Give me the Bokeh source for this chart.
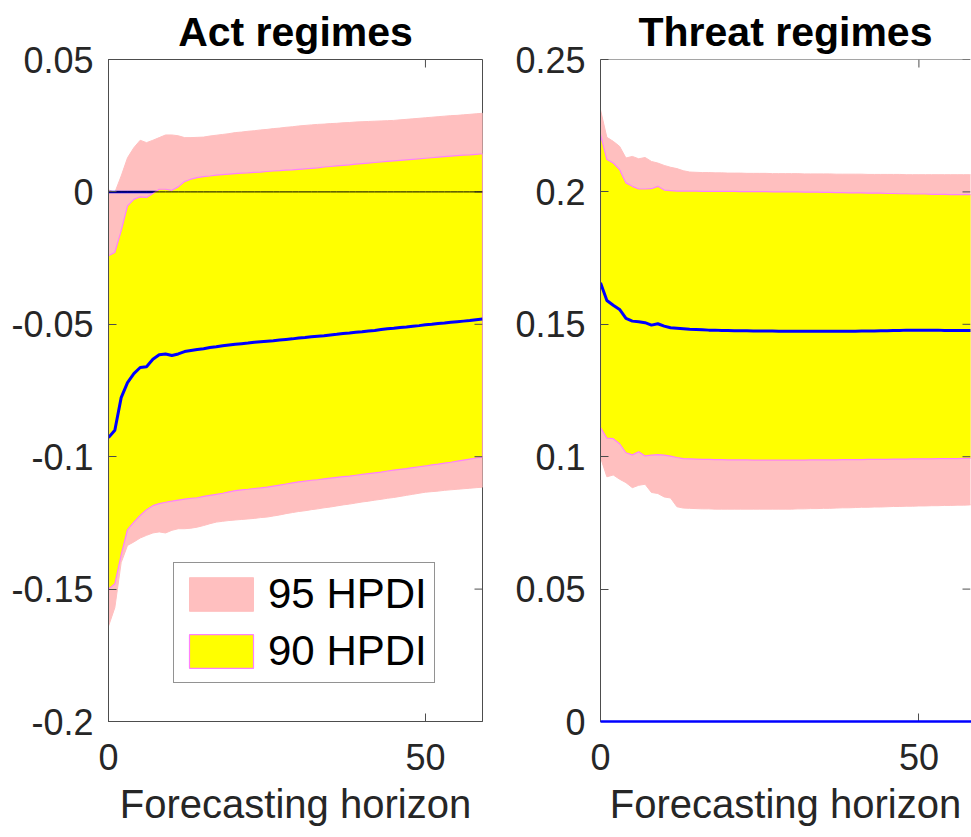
import math
from bokeh.plotting import figure
from bokeh.models import Range1d, FixedTicker, Legend, LegendItem, Span
from bokeh.layouts import row
from bokeh.embed import file_html
from bokeh.resources import INLINE

# ---------------- data ----------------
horizon = list(range(60))

# Act regimes
act_median = [-0.0928, -0.0900, -0.0777, -0.0720, -0.0686, -0.0663, -0.0660, -0.0632, -0.0615, -0.0612,
              -0.0618, -0.0612, -0.0603, -0.0599, -0.0595, -0.0592, -0.0588, -0.0585, -0.0581, -0.0578,
              -0.0575, -0.0573, -0.0571, -0.0568, -0.0566, -0.0564, -0.0562, -0.0559, -0.0557, -0.0555,
              -0.0552, -0.0550, -0.0547, -0.0545, -0.0543, -0.0540, -0.0538, -0.0535, -0.0533, -0.0530,
              -0.0528, -0.0525, -0.0523, -0.0520, -0.0517, -0.0515, -0.0512, -0.0510, -0.0507, -0.0505,
              -0.0502, -0.0500, -0.0497, -0.0495, -0.0492, -0.0490, -0.0488, -0.0486, -0.0483, -0.0480]
act_hi90 = [-0.0241, -0.0229, -0.0147, -0.0053, -0.0028, -0.0019, -0.0021, -0.0006, 0.0010, 0.0010,
            0.0006, 0.0019, 0.0039, 0.0048, 0.0054, 0.0058, 0.0060, 0.0063, 0.0065, 0.0067,
            0.0069, 0.0071, 0.0072, 0.0074, 0.0075, 0.0077, 0.0079, 0.0080, 0.0082, 0.0083,
            0.0085, 0.0087, 0.0089, 0.0091, 0.0094, 0.0096, 0.0098, 0.0100, 0.0102, 0.0105,
            0.0107, 0.0109, 0.0111, 0.0113, 0.0115, 0.0117, 0.0119, 0.0121, 0.0123, 0.0125,
            0.0127, 0.0129, 0.0131, 0.0133, 0.0135, 0.0137, 0.0139, 0.0140, 0.0142, 0.0144]
act_lo90 = [-0.1500, -0.1480, -0.1370, -0.1275, -0.1247, -0.1222, -0.1200, -0.1185, -0.1177, -0.1172,
            -0.1168, -0.1164, -0.1160, -0.1157, -0.1155, -0.1150, -0.1146, -0.1142, -0.1138, -0.1133,
            -0.1128, -0.1125, -0.1123, -0.1120, -0.1118, -0.1115, -0.1111, -0.1107, -0.1103, -0.1099,
            -0.1095, -0.1092, -0.1089, -0.1087, -0.1084, -0.1081, -0.1078, -0.1075, -0.1073, -0.1070,
            -0.1067, -0.1064, -0.1061, -0.1058, -0.1054, -0.1051, -0.1048, -0.1045, -0.1041, -0.1038,
            -0.1035, -0.1031, -0.1028, -0.1024, -0.1021, -0.1017, -0.1013, -0.1009, -0.1005, -0.1002]
act_hi95 = [0.0008, -0.0002, 0.0060, 0.0129, 0.0167, 0.0195, 0.0186, 0.0195, 0.0205, 0.0215,
            0.0215, 0.0212, 0.0205, 0.0205, 0.0206, 0.0207, 0.0211, 0.0214, 0.0217, 0.0220,
            0.0224, 0.0226, 0.0229, 0.0231, 0.0234, 0.0236, 0.0239, 0.0241, 0.0244, 0.0246,
            0.0249, 0.0251, 0.0253, 0.0255, 0.0256, 0.0258, 0.0259, 0.0261, 0.0262, 0.0264,
            0.0265, 0.0266, 0.0267, 0.0268, 0.0269, 0.0270, 0.0272, 0.0274, 0.0276, 0.0278,
            0.0280, 0.0282, 0.0284, 0.0286, 0.0288, 0.0289, 0.0291, 0.0293, 0.0295, 0.0297]
act_lo95 = [-0.1640, -0.1570, -0.1400, -0.1335, -0.1322, -0.1307, -0.1297, -0.1288, -0.1284, -0.1288,
            -0.1278, -0.1272, -0.1272, -0.1270, -0.1266, -0.1260, -0.1253, -0.1247, -0.1244, -0.1241,
            -0.1239, -0.1237, -0.1235, -0.1233, -0.1230, -0.1228, -0.1224, -0.1220, -0.1215, -0.1211,
            -0.1207, -0.1204, -0.1200, -0.1197, -0.1193, -0.1190, -0.1186, -0.1182, -0.1179, -0.1175,
            -0.1171, -0.1168, -0.1164, -0.1161, -0.1157, -0.1154, -0.1150, -0.1146, -0.1142, -0.1138,
            -0.1134, -0.1132, -0.1130, -0.1127, -0.1125, -0.1123, -0.1121, -0.1119, -0.1117, -0.1115]

# Threat regimes
thr_median = [0.1657, 0.1590, 0.1572, 0.1556, 0.1522, 0.1512, 0.1510, 0.1506, 0.1497, 0.1502,
              0.1493, 0.1487, 0.1485, 0.1483, 0.1481, 0.1480, 0.1479, 0.1478, 0.1478, 0.1477,
              0.1477, 0.1476, 0.1476, 0.1476, 0.1475, 0.1475, 0.1475, 0.1475, 0.1474, 0.1474,
              0.1474, 0.1474, 0.1474, 0.1474, 0.1474, 0.1474, 0.1474, 0.1474, 0.1474, 0.1474,
              0.1474, 0.1475, 0.1475, 0.1475, 0.1476, 0.1476, 0.1477, 0.1477, 0.1478, 0.1478,
              0.1478, 0.1478, 0.1478, 0.1478, 0.1477, 0.1477, 0.1477, 0.1477, 0.1477, 0.1477]
thr_hi90 = [0.2216, 0.2122, 0.2109, 0.2084, 0.2034, 0.2021, 0.2011, 0.2011, 0.2012, 0.2021,
            0.2007, 0.2005, 0.2003, 0.2003, 0.2003, 0.2003, 0.2002, 0.2002, 0.2002, 0.2002,
            0.2002, 0.2002, 0.2001, 0.2001, 0.2001, 0.2001, 0.2001, 0.2000, 0.2000, 0.2000,
            0.2000, 0.2000, 0.1999, 0.1999, 0.1999, 0.1998, 0.1998, 0.1997, 0.1997, 0.1996,
            0.1996, 0.1996, 0.1995, 0.1995, 0.1995, 0.1994, 0.1994, 0.1993, 0.1993, 0.1992,
            0.1992, 0.1992, 0.1991, 0.1991, 0.1991, 0.1990, 0.1990, 0.1990, 0.1990, 0.1990]
thr_lo90 = [0.1110, 0.1070, 0.1068, 0.1049, 0.1015, 0.1007, 0.1019, 0.1003, 0.1006, 0.1008,
            0.1006, 0.1002, 0.0997, 0.0993, 0.0992, 0.0991, 0.0990, 0.0990, 0.0989, 0.0989,
            0.0988, 0.0988, 0.0988, 0.0988, 0.0987, 0.0987, 0.0987, 0.0987, 0.0987, 0.0987,
            0.0987, 0.0987, 0.0987, 0.0988, 0.0988, 0.0988, 0.0988, 0.0988, 0.0989, 0.0989,
            0.0989, 0.0989, 0.0990, 0.0990, 0.0990, 0.0990, 0.0991, 0.0991, 0.0991, 0.0992,
            0.0992, 0.0992, 0.0992, 0.0993, 0.0993, 0.0993, 0.0993, 0.0994, 0.0994, 0.0994]
thr_hi95 = [0.2310, 0.2206, 0.2191, 0.2172, 0.2128, 0.2134, 0.2125, 0.2130, 0.2115, 0.2109,
            0.2100, 0.2093, 0.2088, 0.2080, 0.2075, 0.2074, 0.2073, 0.2073, 0.2072, 0.2072,
            0.2071, 0.2071, 0.2071, 0.2070, 0.2070, 0.2070, 0.2070, 0.2069, 0.2069, 0.2069,
            0.2069, 0.2069, 0.2068, 0.2068, 0.2068, 0.2068, 0.2068, 0.2067, 0.2067, 0.2067,
            0.2067, 0.2067, 0.2066, 0.2066, 0.2066, 0.2066, 0.2066, 0.2066, 0.2065, 0.2065,
            0.2065, 0.2065, 0.2065, 0.2065, 0.2065, 0.2065, 0.2065, 0.2065, 0.2065, 0.2065]
thr_lo95 = [0.0997, 0.0924, 0.0931, 0.0915, 0.0902, 0.0883, 0.0892, 0.0896, 0.0865, 0.0861,
            0.0848, 0.0844, 0.0811, 0.0806, 0.0805, 0.0804, 0.0803, 0.0803, 0.0802, 0.0802,
            0.0802, 0.0802, 0.0802, 0.0802, 0.0802, 0.0802, 0.0802, 0.0802, 0.0802, 0.0802,
            0.0802, 0.0803, 0.0803, 0.0804, 0.0804, 0.0805, 0.0805, 0.0806, 0.0807, 0.0807,
            0.0808, 0.0809, 0.0809, 0.0810, 0.0810, 0.0811, 0.0812, 0.0812, 0.0813, 0.0813,
            0.0814, 0.0814, 0.0815, 0.0815, 0.0816, 0.0816, 0.0817, 0.0817, 0.0818, 0.0818]

zero_line = [0.0] * 60

x_ticks = [0, 50]
x_labels = ["0", "50"]
act_y_ticks = [-0.2, -0.15, -0.1, -0.05, 0.0, 0.05]
act_y_labels = ["-0.2", "-0.15", "-0.1", "-0.05", "0", "0.05"]
thr_y_ticks = [0.0, 0.05, 0.1, 0.15, 0.2, 0.25]
thr_y_labels = ["0", "0.05", "0.1", "0.15", "0.2", "0.25"]

titles = ["Act regimes", "Threat regimes"]
x_label = "Forecasting horizon"
legend_labels = ["95 HPDI", "90 HPDI"]

# ---------------- style ----------------
FONT = "Liberation Sans"
TXT = "#262626"
AX = "#4d4d4d"
PINK = "#FFBFBF"
YELLOW = "#FFFF00"
MAGENTA = "#FF80FF"
BLUE = "#0000FF"
FIG_H = 835


def style_axis(ax):
    ax.axis_line_color = AX
    ax.axis_line_width = 1
    ax.major_tick_line_color = AX
    ax.major_tick_in = 8
    ax.major_tick_out = 0
    ax.minor_tick_line_color = None
    ax.major_label_text_font = FONT
    ax.major_label_text_color = TXT
    ax.major_label_text_font_size = "36px"


def panel(title, width, x_end, y_start, y_end, yt, yl, hi95, lo95, hi90, lo90, med,
          mb_left, mb_right, full_box):
    p = figure(width=width, height=FIG_H, x_range=Range1d(0, x_end), y_range=Range1d(y_start, y_end),
               output_backend="svg", toolbar_location=None,
               min_border_left=mb_left, min_border_right=mb_right,
               min_border_top=59, min_border_bottom=FIG_H - 721)
    p.grid.visible = False
    p.outline_line_color = AX if full_box else None
    p.background_fill_color = "white"
    p.border_fill_color = "white"

    p.title.text = title
    p.title.align = "center"
    p.title.text_font = FONT
    p.title.text_font_size = "41px"
    p.title.text_font_style = "bold"
    p.title.text_color = "black"
    p.title.standoff = 9

    xb = p.below[0]
    style_axis(xb)
    xb.ticker = FixedTicker(ticks=x_ticks)
    xb.major_label_overrides = dict(zip(x_ticks, x_labels))
    xb.major_label_standoff = 22
    xb.axis_label = x_label
    xb.axis_label_text_font = FONT
    xb.axis_label_text_font_size = "40px"
    xb.axis_label_text_font_style = "normal"
    xb.axis_label_text_color = TXT
    xb.axis_label_standoff = 9

    yl_ax = p.left[0]
    style_axis(yl_ax)
    yl_ax.ticker = FixedTicker(ticks=yt)
    yl_ax.major_label_overrides = dict(zip(yt, yl))
    yl_ax.major_label_standoff = 15

    if not full_box:
        p.add_layout(Span(location=y_end, dimension="width", line_color=AX, line_width=1))

    xs = horizon + horizon[::-1]
    r95 = p.patch(xs, hi95 + lo95[::-1], fill_color=PINK, line_color=PINK, line_width=1)
    r_zero_blue = p.line(horizon, zero_line, line_color=BLUE, line_width=2.5)
    r90 = p.patch(xs, hi90 + lo90[::-1], fill_color=YELLOW, line_color=MAGENTA, line_width=1.2)
    p.line(horizon, med, line_color=BLUE, line_width=3)

    # mirrored (inward) tick marks on the top and right edges, as in a boxed axes
    p.ray(x=x_ticks, y=[y_end] * len(x_ticks), length=8, length_units="screen",
          angle=-math.pi / 2, line_color=AX, line_width=1)
    p.ray(x=[x_end] * len(yt), y=yt, length=8, length_units="screen",
          angle=math.pi, line_color=AX, line_width=1)
    return p, r95, r90, r_zero_blue


p1, a95, a90, _ = panel(titles[0], 492, 59, -0.2, 0.05, act_y_ticks, act_y_labels,
                        act_hi95, act_lo95, act_hi90, act_lo90, act_median, 108, 10, True)
p1.line(horizon, zero_line, line_color="black", line_width=1)

legend = Legend(items=[LegendItem(label=legend_labels[0], renderers=[a95]),
                       LegendItem(label=legend_labels[1], renderers=[a90])],
                location=(65, 38))
legend.label_text_font = FONT
legend.label_text_font_size = "42px"
legend.label_text_color = "black"
legend.glyph_width = 80
legend.glyph_height = 42
legend.label_height = 42
legend.label_standoff = 7
legend.spacing = 9
legend.padding = 7
legend.margin = 0
legend.border_line_color = TXT
legend.border_line_width = 1
legend.background_fill_color = "white"
legend.background_fill_alpha = 1
p1.add_layout(legend, "center")

p2, _, _, zb = panel(titles[1], 479, 58.1, 0.0, 0.25, thr_y_ticks, thr_y_labels,
                     thr_hi95, thr_lo95, thr_hi90, thr_lo90, thr_median, 108, 1, False)
zb.level = "overlay"

layout = row(p1, p2)
open("out.html", "w").write(file_html(layout, INLINE))
